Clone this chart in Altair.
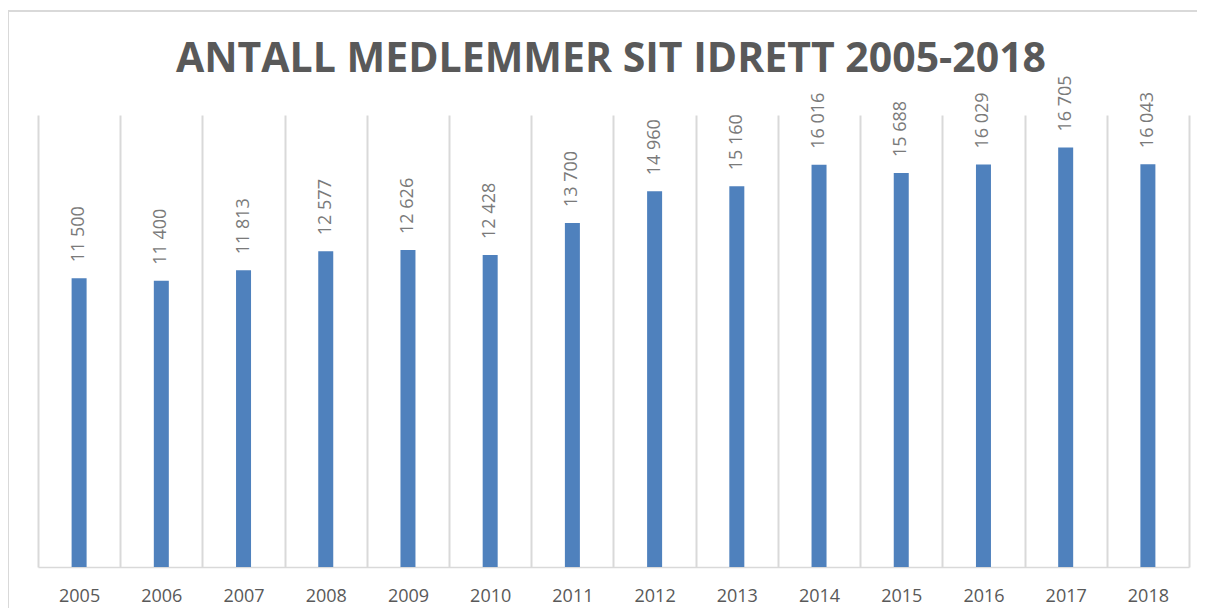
import altair as alt
import pandas as pd

years = ["2005", "2006", "2007", "2008", "2009", "2010", "2011",
         "2012", "2013", "2014", "2015", "2016", "2017", "2018"]
members = [11500, 11400, 11813, 12577, 12626, 12428, 13700,
           14960, 15160, 16016, 15688, 16029, 16705, 16043]
labels = ["11 500", "11 400", "11 813", "12 577", "12 626", "12 428", "13 700",
          "14 960", "15 160", "16 016", "15 688", "16 029", "16 705", "16 043"]
title_text = "ANTALL MEDLEMMER SIT IDRETT 2005-2018"

W, H = 1151, 452

df = pd.DataFrame({"year": years, "members": members, "label": labels})

x_enc = alt.X(
    "year:N",
    title=None,
    sort=years,
    scale=alt.Scale(paddingInner=0, paddingOuter=0),
    axis=alt.Axis(
        grid=True, gridColor="#D9D9D9", gridWidth=2, tickBand="extent",
        ticks=False, domainColor="#D9D9D9", domainWidth=1.5,
        labelFont="Open Sans", labelFontSize=18, labelColor="#595959",
        labelPadding=20, labelAngle=0,
    ),
)
y_enc = alt.Y("members:Q", scale=alt.Scale(domain=[0, 18000], nice=False), axis=None)

base = alt.Chart(df)
bars = base.mark_bar(width=15, color="#4F81BD").encode(x=x_enc, y=y_enc)
texts = base.mark_text(
    angle=270, align="left", baseline="middle", dx=16,
    font="Open Sans", fontSize=18, color="#7A7A7A",
).encode(x=x_enc, y=y_enc, text="label:N")

one = pd.DataFrame({"a": [0]})
frame_top = alt.Chart(one).mark_rule(color="#D9D9D9", strokeWidth=2).encode(
    x=alt.value(-30), x2=alt.value(W + 80), y=alt.value(-104),
)
frame_left = alt.Chart(one).mark_rule(color="#D9D9D9", strokeWidth=2).encode(
    x=alt.value(-30), y=alt.value(-104), y2=alt.value(H + 100),
)

title = alt.Chart(pd.DataFrame({"t": [title_text]})).mark_text(
    font="Open Sans", fontSize=41, fontWeight="bold", color="#595959",
    align="center", baseline="alphabetic",
).encode(x=alt.value(573), y=alt.value(-43), text="t:N")

chart = alt.layer(frame_top, frame_left, bars, texts, title).properties(
    width=W, height=H,
    autosize=alt.AutoSizeParams(type="none"),
    padding={"left": 30, "top": 107, "right": 8, "bottom": 41},
).configure_view(stroke=None)

chart.save("out.html", embed_options={"renderer": "svg", "actions": False})
